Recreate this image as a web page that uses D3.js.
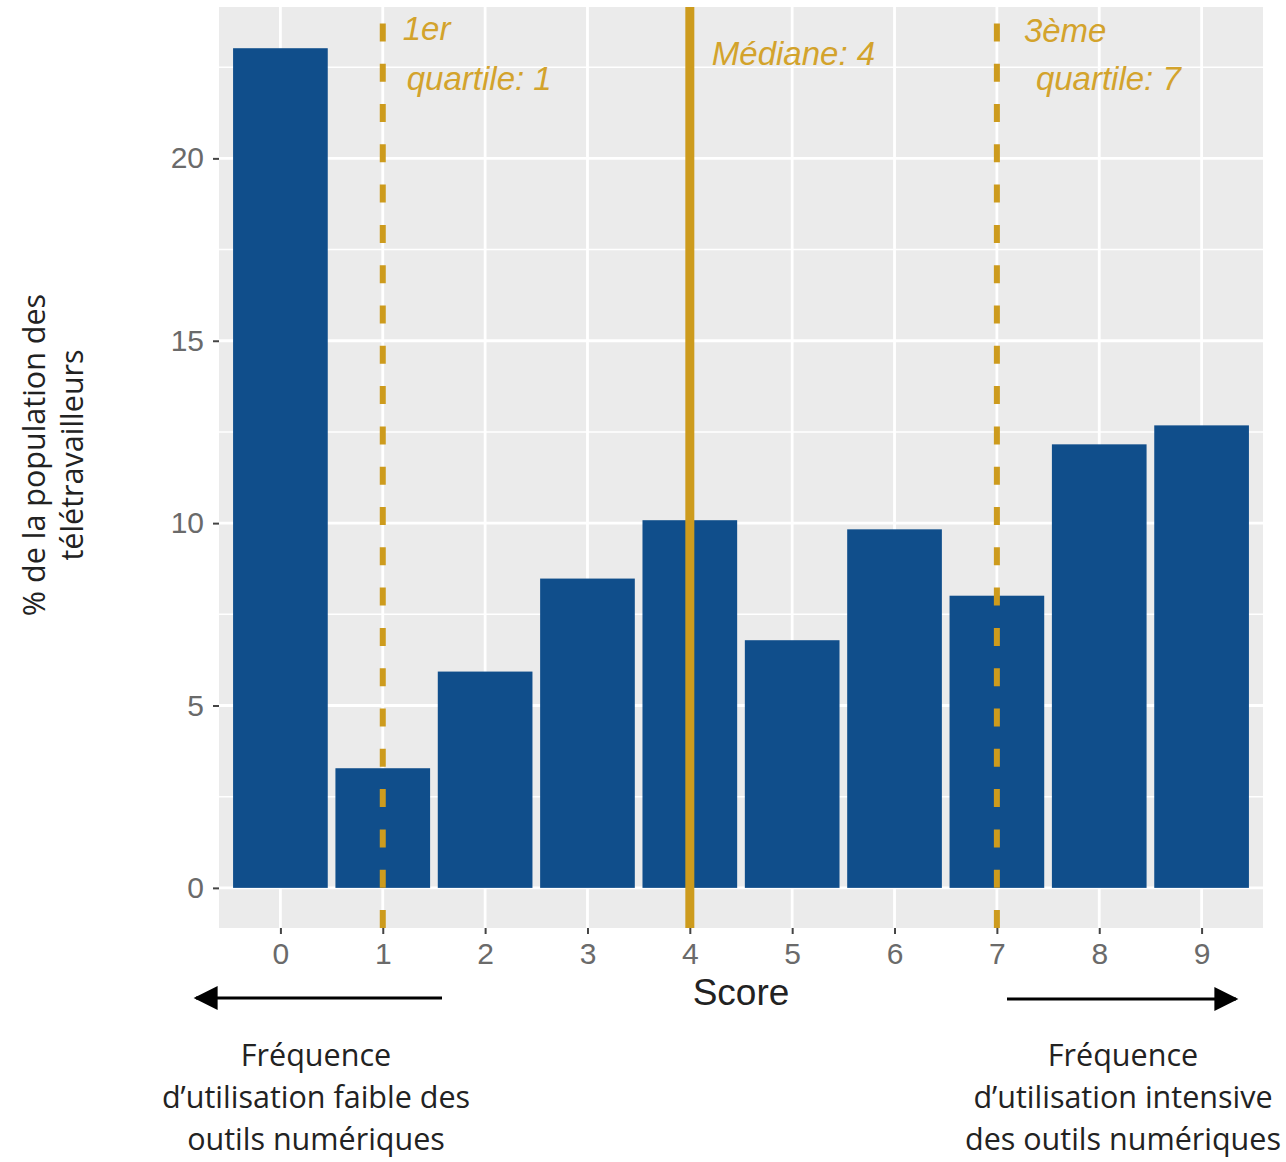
<!DOCTYPE html>
<html>
<head>
<meta charset="utf-8">
<script src="https://cdn.jsdelivr.net/npm/d3@7"></script>
<style>
  html, body { margin: 0; padding: 0; background: #ffffff; }
  svg { display: block; }
</style>
</head>
<body>
<svg id="chart" width="1286" height="1162"></svg>
<script>
// ---- Data ----
const scores = [0, 1, 2, 3, 4, 5, 6, 7, 8, 9];
const percents = [23.02, 3.28, 5.93, 8.48, 10.08, 6.79, 9.83, 8.01, 12.16, 12.68];
const yTicks = [0, 5, 10, 15, 20];
const yMinor = [2.5, 7.5, 12.5, 17.5, 22.5];
const refLines = [
  { value: 1, type: "dashed", lines: ["1er", "quartile: 1"] },
  { value: 4, type: "solid", lines: ["Médiane: 4"] },
  { value: 7, type: "dashed", lines: ["3ème", "quartile: 7"] }
];
const yTitle = ["% de la population des", "télétravailleurs"];
const xTitle = "Score";
const leftNote = ["Fréquence", "d\u2019utilisation faible des", "outils numériques"];
const rightNote = ["Fréquence", "d\u2019utilisation intensive", "des outils numériques"];

// ---- Layout ----
const panel = { left: 219, right: 1263, top: 7, bottom: 928 };
const barColor = "#104E8B";
const gold = "#CD9B1D";
const goldText = "#D3A32C";

const svg = d3.select("#chart");

const x = d3.scaleLinear().domain([-0.6, 9.6]).range([panel.left, panel.right]);
const y = d3.scaleLinear().domain([-1.1, 24.15]).range([panel.bottom, panel.top]);
const barW = 0.925;

// panel background
svg.append("rect")
  .attr("x", panel.left).attr("y", panel.top)
  .attr("width", panel.right - panel.left).attr("height", panel.bottom - panel.top)
  .attr("fill", "#EBEBEB");

// grid
const grid = svg.append("g");
grid.selectAll("line.minor").data(yMinor).join("line")
  .attr("x1", panel.left).attr("x2", panel.right)
  .attr("y1", d => y(d)).attr("y2", d => y(d))
  .attr("stroke", "#ffffff").attr("stroke-width", 1.4);
grid.selectAll("line.majory").data(yTicks).join("line")
  .attr("x1", panel.left).attr("x2", panel.right)
  .attr("y1", d => y(d)).attr("y2", d => y(d))
  .attr("stroke", "#ffffff").attr("stroke-width", 2.8);
grid.selectAll("line.majorx").data(scores).join("line")
  .attr("y1", panel.top).attr("y2", panel.bottom)
  .attr("x1", d => x(d)).attr("x2", d => x(d))
  .attr("stroke", "#ffffff").attr("stroke-width", 2.8);

// bars
svg.append("g").selectAll("rect").data(scores).join("rect")
  .attr("x", (d) => x(d - barW / 2))
  .attr("width", (d) => x(d + barW / 2) - x(d - barW / 2))
  .attr("y", (d, i) => y(percents[i]))
  .attr("height", (d, i) => y(0) - y(percents[i]))
  .attr("fill", barColor);

// reference lines
const refG = svg.append("g");
refLines.forEach(r => {
  refG.append("line")
    .attr("x1", x(r.value)).attr("x2", x(r.value))
    .attr("y1", panel.bottom).attr("y2", panel.top)
    .attr("stroke", gold)
    .attr("stroke-width", r.type === "solid" ? 9 : 6)
    .attr("stroke-dasharray", r.type === "solid" ? null : "18,22.3");
});

// annotations
const annot = svg.append("g")
  .attr("font-family", "'Liberation Sans', Arial, sans-serif")
  .attr("font-style", "italic")
  .attr("font-size", 33)
  .attr("fill", goldText);
annot.append("text").attr("x", x(1) + 20).attr("y", 40).text(refLines[0].lines[0]);
annot.append("text").attr("x", x(1) + 24).attr("y", 90).text(refLines[0].lines[1]);
annot.append("text").attr("x", x(4) + 22).attr("y", 65).text(refLines[1].lines[0]);
annot.append("text").attr("x", x(7) + 27).attr("y", 42).text(refLines[2].lines[0]);
annot.append("text").attr("x", x(7) + 39).attr("y", 90).text(refLines[2].lines[1]);

// axes
const yAxis = d3.axisLeft(y).tickValues(yTicks).tickSize(6).tickPadding(9);
const yg = svg.append("g").attr("transform", `translate(${panel.left},0)`).call(yAxis);
const xAxis = d3.axisBottom(x).tickValues(scores).tickSize(6).tickPadding(9);
const xg = svg.append("g").attr("transform", `translate(0,${panel.bottom})`).call(xAxis);
[yg, xg].forEach(g => {
  g.select(".domain").remove();
  g.selectAll(".tick line").attr("stroke", "#444").attr("stroke-width", 2);
  g.selectAll(".tick text")
    .attr("font-family", "'Liberation Sans', Arial, sans-serif")
    .attr("font-size", 30)
    .attr("fill", "#6a6a6a");
});
xg.selectAll(".tick text").attr("dy", "0.71em");

// x title
svg.append("text")
  .attr("x", (panel.left + panel.right) / 2).attr("y", 1005)
  .attr("text-anchor", "middle")
  .attr("font-family", "'Liberation Sans', Arial, sans-serif")
  .attr("font-size", 37)
  .attr("fill", "#222")
  .text(xTitle);

// y title
const yt = svg.append("text")
  .attr("transform", "translate(0,455) rotate(-90)")
  .attr("text-anchor", "middle")
  .attr("font-family", "'Open Sans', 'Noto Sans', sans-serif")
  .attr("font-size", 30.5)
  .attr("fill", "#222");
yt.append("tspan").attr("x", 0).attr("y", 45).text(yTitle[0]);
yt.append("tspan").attr("x", 0).attr("y", 83).text(yTitle[1]);

// arrows
const defs = svg.append("defs");
defs.append("marker")
  .attr("id", "arrowhead")
  .attr("viewBox", "0 0 10 10")
  .attr("refX", 9).attr("refY", 5)
  .attr("markerUnits", "userSpaceOnUse")
  .attr("markerWidth", 26).attr("markerHeight", 24)
  .attr("orient", "auto")
  .append("path").attr("d", "M0,0 L10,5 L0,10 Z").attr("fill", "#000");

svg.append("line")
  .attr("x1", 442).attr("y1", 998).attr("x2", 196).attr("y2", 998)
  .attr("stroke", "#000").attr("stroke-width", 3)
  .attr("marker-end", "url(#arrowhead)");
svg.append("line")
  .attr("x1", 1007).attr("y1", 999).attr("x2", 1236).attr("y2", 999)
  .attr("stroke", "#000").attr("stroke-width", 3)
  .attr("marker-end", "url(#arrowhead)");

// notes
function note(lines, cx) {
  const t = svg.append("text")
    .attr("text-anchor", "middle")
    .attr("font-family", "'Open Sans', 'Noto Sans', sans-serif")
    .attr("font-size", 30.5)
    .attr("fill", "#222");
  lines.forEach((l, i) => {
    t.append("tspan").attr("x", cx).attr("y", 1066 + i * 42).text(l);
  });
}
note(leftNote, 316);
note(rightNote, 1123);
</script>
</body>
</html>
